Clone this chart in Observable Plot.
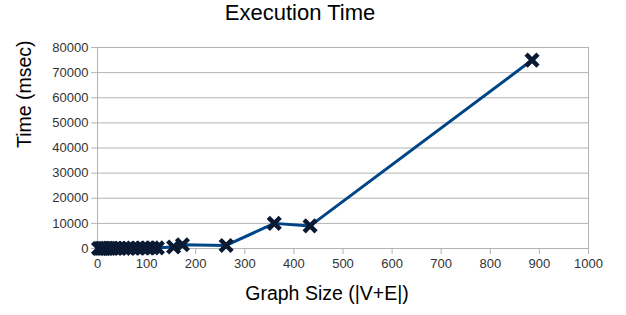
<!DOCTYPE html>
<html>
<head>
<meta charset="utf-8">
<script src="https://cdn.jsdelivr.net/npm/d3@7"></script>
<script src="https://cdn.jsdelivr.net/npm/@observablehq/plot@0.6"></script>
<style>
  body { margin: 0; background: #fff; font-family: "Liberation Sans", Arial, sans-serif; }
  #title { height: 30px; width: 626px; text-align: left; font-size: 22px; line-height: 26px; color: #000; }
  #title span { display: inline-block; position: relative; left: 300px; transform: translateX(-50%); }
</style>
</head>
<body>
<div id="title"><span>Execution Time</span></div>
<div id="chart"></div>
<script>
const graphSize = [2, 6, 10, 14, 18, 24, 30, 38, 46, 54, 62, 72, 82, 92, 102, 112, 122, 155, 173, 262, 360, 433, 885];
const timeMs    = [20, 30, 40, 50, 60, 70, 80, 90, 100, 110, 120, 140, 160, 180, 200, 230, 260, 600, 1500, 1200, 10000, 9000, 75000];
const xTicks = [0, 100, 200, 300, 400, 500, 600, 700, 800, 900, 1000];
const yTicks = [0, 10000, 20000, 30000, 40000, 50000, 60000, 70000, 80000];

const data = graphSize.map((x, i) => ({x, y: timeMs[i]}));

const chart = Plot.plot({
  width: 626,
  height: 285,
  marginTop: 17,
  marginBottom: 67,
  marginLeft: 97,
  marginRight: 38,
  style: {fontFamily: "'Liberation Sans', Arial, sans-serif", fontSize: "13px", color: "#333"},
  x: {domain: [0, 1000]},
  y: {domain: [0, 80000]},
  marks: [
    Plot.gridY(yTicks, {stroke: "#b3b3b3", strokeOpacity: 1}),
    Plot.frame({stroke: "#b3b3b3"}),
    Plot.axisX(xTicks, {tickSize: 6, tickPadding: 4, stroke: "#b3b3b3", label: null, tickFormat: d => String(d), fill: "#333"}),
    Plot.axisY(yTicks, {tickSize: 6, tickPadding: 3, stroke: "#b3b3b3", label: null, tickFormat: d => String(d), fill: "#333"}),
    Plot.line(data, {x: "x", y: "y", stroke: "#004586", strokeWidth: 3}),
    Plot.dot(data, {x: "x", y: "y", symbol: "times", r: 5.5, stroke: "#0a1a33", strokeWidth: 4.5}),
    Plot.text(["Time (msec)"], {frameAnchor: "left", dx: -73, rotate: -90, text: d => d, fontSize: 19.5, fill: "#000"}),
    Plot.text(["Graph Size (|V+E|)"], {frameAnchor: "bottom", dx: -16, dy: 51, text: d => d, fontSize: 19.5, fill: "#000"})
  ]
});
document.getElementById("chart").appendChild(chart);
</script>
</body>
</html>
